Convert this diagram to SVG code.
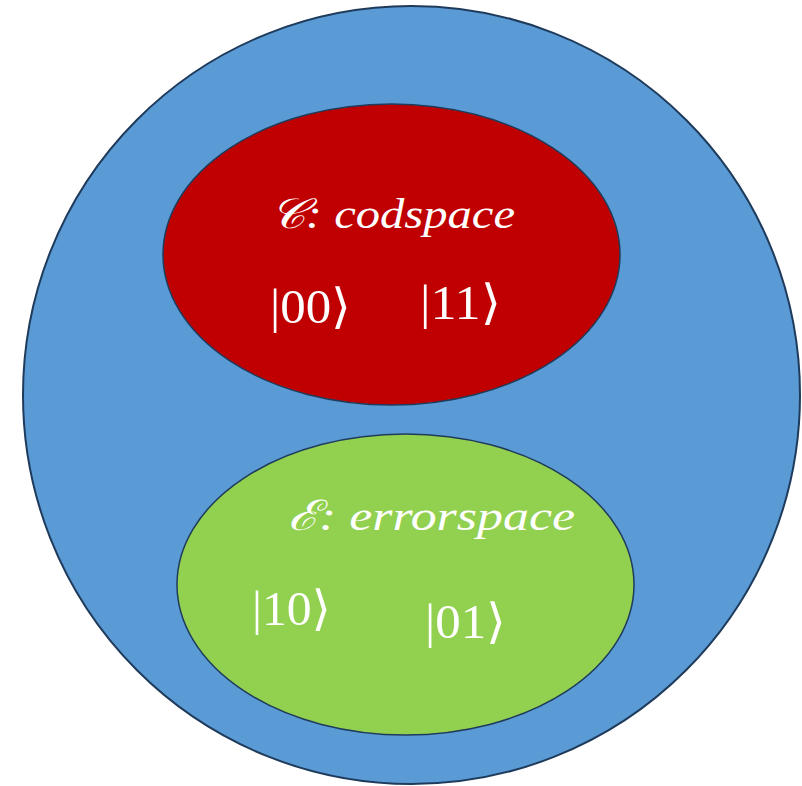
<svg xmlns="http://www.w3.org/2000/svg" width="802" height="786" viewBox="0 0 802 786">
<style>
.sp{stroke:#1F3B5C;stroke-width:2}
.t{fill:#FFFFFF;font-family:"Liberation Serif","DejaVu Serif",serif;font-size:42px}
.k{font-size:48px}
.i{font-style:italic}
</style>
<rect width="802" height="786" fill="#FFFFFF"/>
<g id="hilbert-space">
<ellipse cx="411.5" cy="395" rx="388.5" ry="389" fill="#5B9BD5" class="sp"/>
</g>
<g id="codespace">
<ellipse cx="391.5" cy="254.5" rx="228.5" ry="150.5" fill="#C00000" class="sp" style="stroke-width:1.5"/>
<text class="t i" x="270" y="228" textLength="245" lengthAdjust="spacingAndGlyphs">𝒞: codspace</text>
<text class="t k" x="270" y="323" textLength="81" lengthAdjust="spacingAndGlyphs">|00⟩</text>
<text class="t k" x="420" y="319" textLength="81" lengthAdjust="spacingAndGlyphs">|11⟩</text>
</g>
<g id="errorspace">
<ellipse cx="405.5" cy="584.5" rx="228.5" ry="150.5" fill="#92D050" class="sp" style="stroke-width:1.5"/>
<text class="t i" x="288" y="530" textLength="287" lengthAdjust="spacingAndGlyphs">ℰ: errorspace</text>
<text class="t k" x="252" y="625" textLength="79" lengthAdjust="spacingAndGlyphs">|10⟩</text>
<text class="t k" x="425" y="638" textLength="81" lengthAdjust="spacingAndGlyphs">|01⟩</text>
</g>
</svg>
